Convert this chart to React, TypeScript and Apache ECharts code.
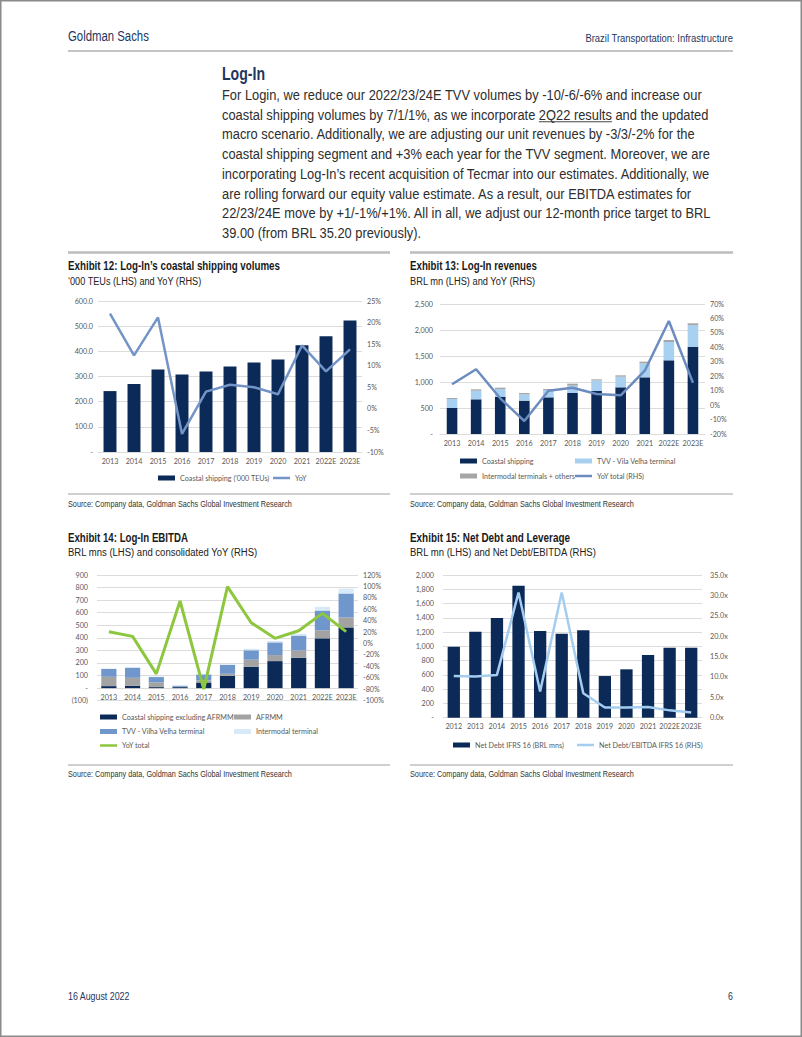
import React, { useEffect, useRef } from "react";
import * as echarts from "echarts";

// ---------- data ----------
const years13 = ["2013", "2014", "2015", "2016", "2017", "2018", "2019", "2020", "2021", "2022E", "2023E"];
const years12 = ["2012", ...years13];

// Exhibit 12
const ex12Volumes = [242, 270, 328, 308, 320, 340, 356, 368, 424, 460, 523];
const ex12YoY = [22.1, 12.4, 21.2, -5.8, 4.0, 5.6, 5.0, 3.4, 14.7, 8.7, 13.8];
const ex12LeftTicks = ["-", "100.0", "200.0", "300.0", "400.0", "500.0", "600.0"];
const ex12RightTicks = ["-10%", "-5%", "0%", "5%", "10%", "15%", "20%", "25%"];

// Exhibit 13
const ex13Coastal = [500, 667, 718, 641, 705, 788, 827, 898, 1090, 1417, 1679];
const ex13TVV = [173, 166, 147, 122, 141, 141, 205, 204, 269, 352, 411];
const ex13Intermodal = [19, 26, 26, 25, 19, 39, 19, 26, 32, 39, 39];
const ex13YoY = [14.4, 24.8, 4.7, -11.0, 10.0, 12.0, 7.7, 6.8, 23.8, 58.2, 15.5];
const ex13LeftTicks = ["-", "500", "1,000", "1,500", "2,000", "2,500"];
const ex13RightTicks = ["-20%", "-10%", "0%", "10%", "20%", "30%", "40%", "50%", "60%", "70%"];

// Exhibit 14
const ex14Coastal = [16, 19, 8, 8, 45, 98, 169, 215, 242, 396, 483];
const ex14AFRMM = [74, 63, 37, 3, 16, 16, 57, 48, 58, 64, 79];
const ex14TVV = [63, 80, 43, 8, 48, 70, 75, 101, 118, 157, 191];
const ex14Intermodal = [2, 6, 5, 0, 5, 5, 12, 11, 15, 30, 39];
const ex14YoY = [20.8, 12.6, -53, 74.5, -79.6, 99.6, 36.5, 9.1, 22.5, 52.9, 20.8];
const ex14LeftTicks = ["(100)", "-", "100", "200", "300", "400", "500", "600", "700", "800", "900"];
const ex14RightTicks = ["-100%", "-80%", "-60%", "-40%", "-20%", "0%", "20%", "40%", "60%", "80%", "100%", "120%"];

// Exhibit 15
const ex15NetDebt = [995, 1206, 1397, 1850, 1215, 1178, 1224, 584, 678, 879, 981, 981];
const ex15Leverage = [10.2, 10.1, 10.5, 30.7, 6.4, 30.7, 6.0, 2.5, 2.5, 2.6, 1.8, 1.3];
const ex15LeftTicks = ["-", "200", "400", "600", "800", "1,000", "1,200", "1,400", "1,600", "1,800", "2,000"];
const ex15RightTicks = ["0.0x", "5.0x", "10.0x", "15.0x", "20.0x", "25.0x", "30.0x", "35.0x"];

const paragraph = [
  "For Login, we reduce our 2022/23/24E TVV volumes by -10/-6/-6% and increase our",
  "coastal shipping volumes by 7/1/1%, as we incorporate 2Q22 results and the updated",
  "macro scenario. Additionally, we are adjusting our unit revenues by -3/3/-2% for the",
  "coastal shipping segment and +3% each year for the TVV segment. Moreover, we are",
  "incorporating Log-In’s recent acquisition of Tecmar into our estimates. Additionally, we",
  "are rolling forward our equity value estimate. As a result, our EBITDA estimates for",
  "22/23/24E move by +1/-1%/+1%. All in all, we adjust our 12-month price target to BRL",
  "39.00 (from BRL 35.20 previously).",
];
const linkPrefix = "coastal shipping volumes by 7/1/1%, as we incorporate ";
const linkText = "2Q22 results";

// ---------- styles ----------
const GS_FONT = "'Liberation Sans', Arial, sans-serif";
const CH_FONT = "Lato, 'Liberation Sans', sans-serif";
const CH_SIZE = 7.2;
const NAVY = "#0b2a57";
const HEAD = "#1f3560";
const GRID_C = "#dcdcdc";
const LABEL_C = "#595959";

function tickFmt(ticks: string[], min: number, interval: number) {
  return (v: number) => ticks[Math.round((v - min) / interval)] ?? "";
}

function leftAxis(gridIndex: number, min: number, max: number, interval: number, ticks: string[], margin: number) {
  return {
    type: "value", gridIndex, min, max, interval, position: "left",
    axisLine: { show: false }, axisTick: { show: false },
    splitLine: { show: true, lineStyle: { color: GRID_C, width: 1 } },
    axisLabel: { formatter: tickFmt(ticks, min, interval), color: LABEL_C, fontSize: CH_SIZE, fontFamily: CH_FONT, margin },
  };
}
function rightAxis(gridIndex: number, min: number, max: number, interval: number, ticks: string[], margin: number) {
  return {
    type: "value", gridIndex, min, max, interval, position: "right",
    axisLine: { show: false }, axisTick: { show: false }, splitLine: { show: false },
    axisLabel: { formatter: tickFmt(ticks, min, interval), color: LABEL_C, fontSize: CH_SIZE, fontFamily: CH_FONT, margin },
  };
}
function catAxis(gridIndex: number, data: string[], margin: number, showLine: boolean) {
  return {
    type: "category", gridIndex, data, axisTick: { show: false },
    axisLine: { show: showLine, onZero: false, lineStyle: { color: GRID_C, width: 1 } },
    axisLabel: { color: LABEL_C, fontSize: CH_SIZE, fontFamily: CH_FONT, margin, interval: 0 },
  };
}
function leg(name: string, left: number, cy: number, isLine: boolean) {
  return {
    show: true, left, top: cy - 5, padding: 0, itemWidth: 17, itemHeight: isLine ? 2.5 : 5,
    selectedMode: false,
    data: [{ name, icon: "rect" }],
    textStyle: { fontSize: CH_SIZE, color: LABEL_C, fontFamily: CH_FONT, lineHeight: 10 },
  };
}
function hline(x1: number, x2: number, y: number, color: string, width: number) {
  return { type: "line", silent: true, shape: { x1, y1: y, x2, y2: y }, style: { stroke: color, lineWidth: width } };
}

export default function App() {
  const ref = useRef<HTMLDivElement>(null);
  useEffect(() => {
    const el = ref.current!;
    const chart = echarts.init(el, undefined, { renderer: "svg", width: 802, height: 1037 });

    const canvas = document.createElement("canvas");
    const ctx = canvas.getContext("2d")!;
    const fontStr = (size: number, bold: boolean) => `${bold ? "bold " : ""}${size}px ${GS_FONT}`;
    const measure = (t: string, font: string) => { ctx.font = font; return ctx.measureText(t).width; };

    // text with horizontal condensing to mimic the narrow house font
    const txt = (text: string, x: number, y: number, size: number, bold: boolean, fill: string,
                 target: number | null, align = "left", sxFixed = 0.8) => {
      const font = fontStr(size, bold);
      let sx = sxFixed;
      if (target) {
        const w = measure(text, font);
        if (w > 0) sx = Math.max(0.6, Math.min(1.1, target / w));
      }
      return {
        type: "text", x, y, scaleX: sx, scaleY: 1, silent: true,
        style: { text, font, fill, align, textAlign: align, verticalAlign: "middle", textVerticalAlign: "middle" },
      };
    };

    const pSize = 14.5;
    const pFont = fontStr(pSize, false);
    const pw = measure(paragraph[0], pFont);
    const pSx = pw > 0 ? 480 / pw : 0.8;
    const lineYs = paragraph.map((_, i) => 95 + i * 19.75);
    const ux0 = 222 + measure(linkPrefix, pFont) * pSx;
    const ux1 = ux0 + measure(linkText, pFont) * pSx;

    const src = "Source: Company data, Goldman Sachs Global Investment Research";
    const TITLE_C = "#1a1a1a";
    const SUB_C = "#222";

    const graphics: any[] = [
      { type: "rect", silent: true, shape: { x: 0.75, y: 0.75, width: 800.5, height: 1035.5 }, style: { fill: "none", stroke: "#8a8a8a", lineWidth: 1.5 } },
      txt("Goldman Sachs", 68, 36, 14.5, false, HEAD, 81),
      txt("Brazil Transportation: Infrastructure", 733, 38, 10.5, false, HEAD, 148, "right"),
      hline(68, 733, 51, "#b0b0b0", 1.5),
      txt("Log-In", 222, 74, 19, true, HEAD, 43),
      ...paragraph.map((t, i) => ({
        type: "text", x: 222, y: lineYs[i], scaleX: pSx, silent: true,
        style: { text: t, font: pFont, fill: "#2e2e2e", align: "left", textAlign: "left", verticalAlign: "middle", textVerticalAlign: "middle" },
      })),
      hline(ux0, ux1, lineYs[1] + 7, "#444", 1),
      hline(68, 390, 252.5, "#bdbdbd", 2.5),
      hline(410, 733, 252.5, "#bdbdbd", 2.5),
      txt("Exhibit 12: Log-In’s coastal shipping volumes", 68, 266, 12.5, true, TITLE_C, 212),
      txt("‘000 TEUs (LHS) and YoY (RHS)", 68, 281, 11.5, false, SUB_C, 134),
      txt("Exhibit 13: Log-In revenues", 410, 266, 12.5, true, TITLE_C, 127),
      txt("BRL mn (LHS) and YoY (RHS)", 410, 281, 11.5, false, SUB_C, 126),
      hline(68, 390, 494, "#a0a0a0", 1),
      hline(410, 733, 494, "#a0a0a0", 1),
      txt(src, 68, 504, 9.5, false, "#333", 224),
      txt(src, 410, 504, 9.5, false, "#333", 224),
      txt("Exhibit 14: Log-In EBITDA", 68, 538, 12.5, true, TITLE_C, 120),
      txt("BRL mns (LHS) and consolidated YoY (RHS)", 68, 552, 11.5, false, SUB_C, 190),
      txt("Exhibit 15: Net Debt and Leverage", 410, 538, 12.5, true, TITLE_C, 160),
      txt("BRL mn (LHS) and Net Debt/EBITDA (RHS)", 410, 552, 11.5, false, SUB_C, 187),
      hline(68, 390, 765, "#a0a0a0", 1),
      hline(410, 733, 765, "#a0a0a0", 1),
      txt(src, 68, 774, 9.5, false, "#333", 224),
      txt(src, 410, 774, 9.5, false, "#333", 224),
      txt("16 August 2022", 68, 996, 11, false, HEAD, 62),
      txt("6", 733, 996, 11, false, HEAD, null, "right"),
    ];

    const option: any = {
      animation: false,
      backgroundColor: "#ffffff",
      grid: [
        { left: 98, top: 301, width: 264, height: 151 },
        { left: 440, top: 304, width: 265, height: 130 },
        { left: 97, top: 575, width: 261, height: 125.7 },
        { left: 443, top: 575, width: 259, height: 142.7 },
      ],
      xAxis: [
        catAxis(0, years13, 6, true),
        catAxis(1, years13, 6, true),
        catAxis(2, years13, -6.5, false),
        catAxis(3, years12, 5, true),
      ],
      yAxis: [
        leftAxis(0, 0, 600, 100, ex12LeftTicks, 5),
        rightAxis(0, -10, 25, 5, ex12RightTicks, 5),
        leftAxis(1, 0, 2500, 500, ex13LeftTicks, 7),
        rightAxis(1, -20, 70, 10, ex13RightTicks, 5),
        leftAxis(2, -100, 900, 100, ex14LeftTicks, 9),
        rightAxis(2, -100, 120, 20, ex14RightTicks, 5),
        leftAxis(3, 0, 2000, 200, ex15LeftTicks, 9),
        rightAxis(3, 0, 35, 5, ex15RightTicks, 8),
      ],
      legend: [
        leg("Coastal shipping ('000 TEUs)", 158, 478, false),
        leg("YoY", 273, 478, true),
        leg("Coastal shipping", 460, 461, false),
        leg("TVV - Vila Velha terminal", 575, 461, false),
        leg("Intermodal terminals + others", 460, 476, false),
        leg("YoY total (RHS)", 575, 476, true),
        leg("Coastal shipping excluding AFRMM", 100, 717, false),
        leg("AFRMM", 234, 717, false),
        leg("TVV - Vilha Velha terminal", 100, 731.5, false),
        leg("Intermodal terminal", 234, 731.5, false),
        leg("YoY total", 100, 745.5, true),
        leg("Net Debt IFRS 16 (BRL mns)", 453, 745, false),
        leg("Net Debt/EBITDA IFRS 16 (RHS)", 577, 745, true),
      ],
      series: [
        // Exhibit 12
        { name: "Coastal shipping ('000 TEUs)", type: "bar", xAxisIndex: 0, yAxisIndex: 0, data: ex12Volumes, barWidth: "54%", itemStyle: { color: NAVY } },
        { name: "YoY", type: "line", xAxisIndex: 0, yAxisIndex: 1, data: ex12YoY, symbol: "none", lineStyle: { color: "#7394c6", width: 2.5 }, itemStyle: { color: "#7394c6" } },
        // Exhibit 13
        { name: "Coastal shipping", type: "bar", stack: "rev", xAxisIndex: 1, yAxisIndex: 2, data: ex13Coastal, barWidth: "44%", itemStyle: { color: NAVY } },
        { name: "TVV - Vila Velha terminal", type: "bar", stack: "rev", xAxisIndex: 1, yAxisIndex: 2, data: ex13TVV, barWidth: "44%", itemStyle: { color: "#a8d0f0" } },
        { name: "Intermodal terminals + others", type: "bar", stack: "rev", xAxisIndex: 1, yAxisIndex: 2, data: ex13Intermodal, barWidth: "44%", itemStyle: { color: "#a6a6a6" } },
        { name: "YoY total (RHS)", type: "line", xAxisIndex: 1, yAxisIndex: 3, data: ex13YoY, symbol: "none", lineStyle: { color: "#6c8cc0", width: 2.5 }, itemStyle: { color: "#6c8cc0" } },
        // Exhibit 14
        { name: "Coastal shipping excluding AFRMM", type: "bar", stack: "ebitda", xAxisIndex: 2, yAxisIndex: 4, data: ex14Coastal, barWidth: "64%", itemStyle: { color: NAVY } },
        { name: "AFRMM", type: "bar", stack: "ebitda", xAxisIndex: 2, yAxisIndex: 4, data: ex14AFRMM, barWidth: "64%", itemStyle: { color: "#a3a3a3" } },
        { name: "TVV - Vilha Velha terminal", type: "bar", stack: "ebitda", xAxisIndex: 2, yAxisIndex: 4, data: ex14TVV, barWidth: "64%", itemStyle: { color: "#6f97cb" } },
        { name: "Intermodal terminal", type: "bar", stack: "ebitda", xAxisIndex: 2, yAxisIndex: 4, data: ex14Intermodal, barWidth: "64%", itemStyle: { color: "#d8e9f8" } },
        { name: "YoY total", type: "line", xAxisIndex: 2, yAxisIndex: 5, data: ex14YoY, symbol: "none", lineStyle: { color: "#8dc63f", width: 3 }, itemStyle: { color: "#8dc63f" } },
        // Exhibit 15
        { name: "Net Debt IFRS 16 (BRL mns)", type: "bar", xAxisIndex: 3, yAxisIndex: 6, data: ex15NetDebt, barWidth: "57%", itemStyle: { color: NAVY } },
        { name: "Net Debt/EBITDA IFRS 16 (RHS)", type: "line", xAxisIndex: 3, yAxisIndex: 7, data: ex15Leverage, symbol: "none", lineStyle: { color: "#a4cdf0", width: 2.5 }, itemStyle: { color: "#a4cdf0" } },
      ],
      graphic: { elements: graphics },
    };
    chart.setOption(option);
    return () => chart.dispose();
  }, []);

  return (
    <div
      ref={ref}
      style={{ position: "absolute", left: 0, top: 0, width: 802, height: 1037, background: "#fff" }}
    />
  );
}
